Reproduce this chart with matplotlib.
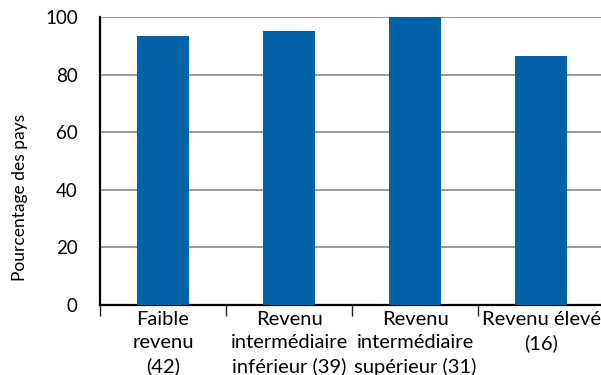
import matplotlib.pyplot as plt
from matplotlib.ticker import FixedLocator, NullFormatter

plt.rcParams['font.family'] = ['Lato', 'DejaVu Sans']

categories = ["Faible\nrevenu\n(42)",
              "Revenu\nintermédiaire\ninférieur (39)",
              "Revenu\nintermédiaire\nsupérieur (31)",
              "Revenu élevé\n(16)"]
values = [93.5, 95.3, 100, 86.5]
y_ticks = [0, 20, 40, 60, 80, 100]

bar_color = '#0061a6'

fig = plt.figure(figsize=(6.01, 3.75), dpi=100)
ax = fig.add_axes([100 / 601, 70 / 375, 504 / 601, 288 / 375])

x = range(len(categories))
ax.bar(x, values, width=0.41, color=bar_color, zorder=3)

ax.set_xlim(-0.5, len(categories) - 0.5)
ax.set_ylim(0, 100)
ax.set_yticks(y_ticks)
ax.yaxis.grid(True, color='#999999', linewidth=1.4, zorder=0)
ax.tick_params(axis='y', length=0, pad=16, labelsize=13.5)

# category labels centred, tick marks at the category boundaries
ax.xaxis.set_major_locator(FixedLocator([i - 0.5 for i in range(len(categories) + 1)]))
ax.xaxis.set_major_formatter(NullFormatter())
ax.set_xticks(list(x), minor=True)
ax.set_xticklabels(categories, minor=True, fontsize=14.5, linespacing=1.45)
ax.tick_params(axis='x', which='major', length=8, width=1, color='#222222')
ax.tick_params(axis='x', which='minor', length=0, pad=4)

for side in ('top', 'right'):
    ax.spines[side].set_visible(False)
ax.spines['left'].set_linewidth(1.6)
ax.spines['bottom'].set_linewidth(1.6)

ax.set_ylabel('Pourcentage des pays', fontsize=12.5)
ax.yaxis.set_label_coords(-0.142, 0.375)

fig.savefig('out.png', dpi=100)
